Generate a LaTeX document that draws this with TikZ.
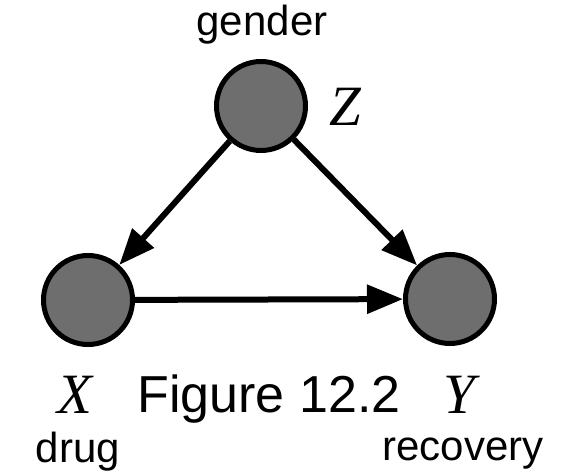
\documentclass[tikz,border=0pt]{standalone}
\usepackage{fontspec}
\setmainfont{Liberation Sans}
\newfontfamily\symfont{Liberation Serif}
\usetikzlibrary{arrows.meta,positioning}
\definecolor{vargray}{RGB}{110,110,110}

\begin{document}
\begin{tikzpicture}[x=1pt,y=1pt,
  var/.style={circle,draw=black,fill=vargray,line width=5pt,minimum size=89pt,inner sep=0pt},
  arc/.style={-{Triangle[length=36pt,width=28pt]},line width=6pt},
  varname/.style={inner sep=0pt,anchor=base,font=\fontsize{42}{50}\selectfont},
  varsym/.style={inner sep=0pt,anchor=base,font=\symfont\itshape\fontsize{57}{66}\selectfont}]
  \useasboundingbox (0,0) rectangle (562,474);
  % the three variables
  \node[var] (z) at (261,368) {};
  \node[var] (x) at (88,174) {};
  \node[var] (y) at (450,175) {};

  % symbols and names
  \node[varname] (zname) at (262,438) {gender};
  \node[varsym] (zsym) at (345,348) {Z};
  \node[varsym] (xsym) at (75,61) {X};
  \node[varsym] (ysym) at (459,61) {Y};
  \node[varname] (xname) at (78,12) {drug};
  \node[varname] (yname) at (463,14) {recovery};
  \node[inner sep=0pt,anchor=base,font=\fontsize{52}{62}\selectfont] (caption) at (269,62) {Figure 12.2};

  \draw[arc] (z) -- (x);
  \draw[arc] (z) -- (y);
  \draw[arc] (x) -- (y);
\end{tikzpicture}
\end{document}
